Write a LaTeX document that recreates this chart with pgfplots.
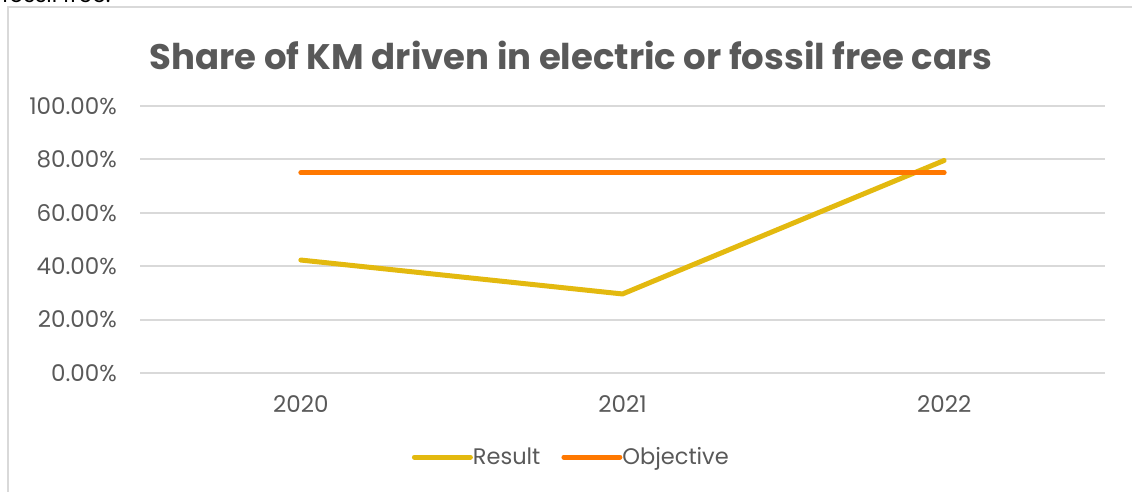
\documentclass[border=0pt]{standalone}
\usepackage{fontspec}
\setmainfont{Poppins}
\usepackage{pgfplots}
\pgfplotsset{compat=1.18}
\definecolor{txt}{HTML}{595959}
\definecolor{gridc}{HTML}{D9D9D9}
\definecolor{result}{HTML}{E3B90F}
\definecolor{objective}{HTML}{FF7800}
\begin{document}
\begin{tikzpicture}[x=1pt,y=1pt]
\useasboundingbox (0,0) rectangle (1132,492);
\draw[gridc, line width=2pt] (8,0) -- (8,485) -- (1132,485);
\node[anchor=base west, inner sep=0pt, font=\fontsize{22}{24}\selectfont] at (2,489) {fossil free.};
\node[font=\fontsize{35.5}{40}\selectfont\bfseries, text=txt] at (571,437) {Share of KM driven in electric or fossil free cars};
\begin{axis}[
  at={(140pt,119pt)}, anchor=south west,
  scale only axis, width=965pt, height=267pt,
  xmin=-0.5, xmax=2.5, ymin=0, ymax=100,
  xtick={0,1,2}, xticklabels={2020,2021,2022},
  ytick={0,20,40,60,80,100},
  yticklabels={0.00\%,20.00\%,40.00\%,60.00\%,80.00\%,100.00\%},
  axis line style={draw=none}, major tick length=0pt,
  ymajorgrids, grid style={line width=2pt, gridc},
  ticklabel style={font=\fontsize{23}{25}\selectfont, text=txt, inner sep=0pt},
  yticklabel style={anchor=east, xshift=-23pt},
  xticklabel style={anchor=north, yshift=-22pt},
  legend style={at={(0.447,-0.315)}, anchor=center, draw=none, fill=none,
    legend columns=-1, font=\fontsize{22.5}{24}\selectfont, text=txt,
    /tikz/every even column/.append style={column sep=19pt},
    /tikz/every odd column/.append style={column sep=-2pt}},
  legend image code/.code={\draw[#1, line cap=round] (0pt,0pt) -- (56pt,0pt);},
]
\addplot[result, line width=5pt, line cap=round, line join=round] coordinates {(0,42.3) (1,29.6) (2,79.6)};
\addlegendentry{Result}
\addplot[objective, line width=5pt, line cap=round, line join=round] coordinates {(0,75) (1,75) (2,75)};
\addlegendentry{Objective}
\end{axis}
\end{tikzpicture}
\end{document}
